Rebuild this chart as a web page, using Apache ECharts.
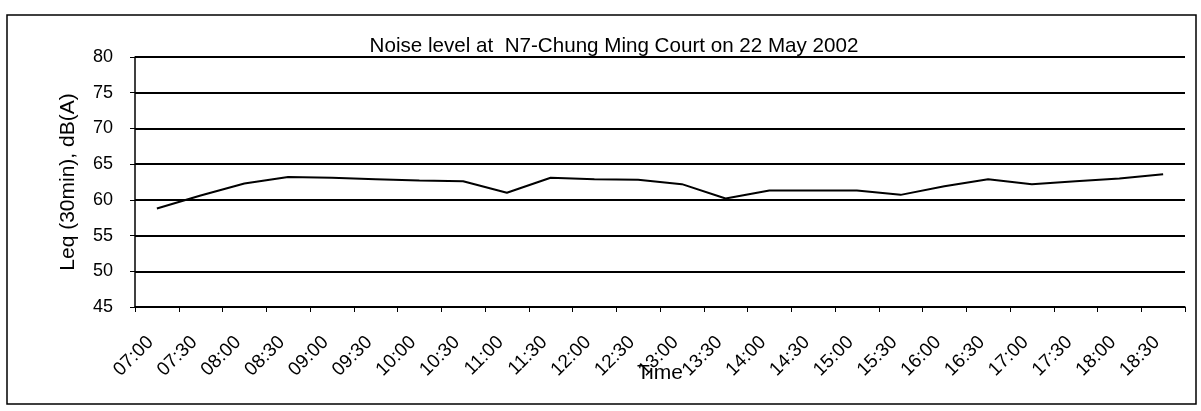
<!DOCTYPE html>
<html>
<head>
<meta charset="utf-8">
<script src="https://cdn.jsdelivr.net/npm/echarts@6/dist/echarts.min.js"></script>
<style>
  html, body { margin: 0; padding: 0; background: #fff; }
  #chart { width: 1201px; height: 411px; }
</style>
</head>
<body>
<div id="chart"></div>
<script>
// half-hour periods along the x axis
const times = ['07:00', '07:30', '08:00', '08:30', '09:00', '09:30', '10:00', '10:30',
  '11:00', '11:30', '12:00', '12:30', '13:00', '13:30', '14:00', '14:30',
  '15:00', '15:30', '16:00', '16:30', '17:00', '17:30', '18:00', '18:30'];

// Leq (30min) readings, dB(A)
const leq = [58.8, 60.6, 62.3, 63.2, 63.1, 62.9, 62.7, 62.6,
  61.0, 63.1, 62.9, 62.8, 62.2, 60.2, 61.3, 61.3,
  61.3, 60.7, 61.9, 62.9, 62.2, 62.6, 63.0, 63.6];

const yMin = 45;
const yMax = 80;
const yStep = 5;

const font = '"Liberation Sans", Arial, sans-serif';
const chart = echarts.init(document.getElementById('chart'));

chart.setOption({
  animation: false,
  backgroundColor: '#fff',
  title: {
    text: 'Noise level at  N7-Chung Ming Court on 22 May 2002',
    left: 609,
    textAlign: 'center',
    top: 31,
    textStyle: { fontFamily: font, fontSize: 20.6, fontWeight: 'normal', color: '#000' }
  },
  graphic: [{
    type: 'rect',
    shape: { x: 7, y: 15, width: 1189, height: 389 },
    style: { fill: 'none', stroke: '#000', lineWidth: 1.5 },
    silent: true
  }],
  grid: { left: 135, right: 16, top: 57, bottom: 104 },
  xAxis: {
    type: 'category',
    data: times,
    boundaryGap: true,
    name: 'Time',
    nameLocation: 'middle',
    nameGap: 56,
    nameMoveOverlap: false,
    nameTextStyle: { fontFamily: font, fontSize: 21, color: '#000' },
    axisLine: { lineStyle: { color: '#000', width: 1.5 } },
    axisTick: { show: true, length: 5, lineStyle: { color: '#000' } },
    axisLabel: {
      interval: 0, rotate: 45, margin: 26,
      padding: [0, 9, 0, 0],
      fontFamily: font, fontSize: 19, color: '#000'
    },
    splitLine: { show: false }
  },
  yAxis: {
    type: 'value',
    min: yMin,
    max: yMax,
    interval: yStep,
    name: 'Leq (30min), dB(A)',
    nameLocation: 'middle',
    nameGap: 56,
    nameMoveOverlap: false,
    nameTextStyle: { fontFamily: font, fontSize: 21, color: '#000' },
    axisLine: { show: true, lineStyle: { color: '#000', width: 1.5 } },
    axisTick: { show: true, length: 5, lineStyle: { color: '#000' } },
    axisLabel: { margin: 22, fontFamily: font, fontSize: 18, color: '#000' },
    splitLine: { show: true, lineStyle: { color: '#000', width: 2 } }
  },
  series: [{
    type: 'line',
    data: leq,
    showSymbol: false,
    lineStyle: { color: '#000', width: 2 },
    z: 3
  }]
});
</script>
</body>
</html>
